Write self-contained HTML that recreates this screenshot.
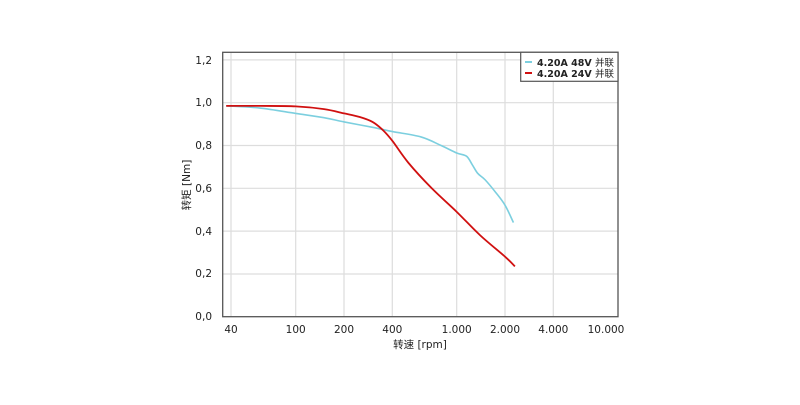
<!DOCTYPE html>
<html><head><meta charset="utf-8"><style>
body{margin:0;background:#fff;width:800px;height:400px;overflow:hidden}
text{font-family:"DejaVu Sans","Noto Sans CJK SC",sans-serif;font-size:10.5px;fill:#222}
</style></head><body>
<svg id="s" width="800" height="400" xmlns="http://www.w3.org/2000/svg">
<g stroke="#ddd" stroke-width="1.2">
<line x1="231" y1="52" x2="231" y2="317"/><line x1="295.7" y1="52" x2="295.7" y2="317"/>
<line x1="344" y1="52" x2="344" y2="317"/><line x1="392.3" y1="52" x2="392.3" y2="317"/>
<line x1="456.7" y1="52" x2="456.7" y2="317"/><line x1="505" y1="52" x2="505" y2="317"/>
<line x1="553.3" y1="52" x2="553.3" y2="317"/>
<line x1="223" y1="274" x2="618" y2="274"/><line x1="223" y1="231.1" x2="618" y2="231.1"/>
<line x1="223" y1="188.3" x2="618" y2="188.3"/><line x1="223" y1="145.5" x2="618" y2="145.5"/>
<line x1="223" y1="102.7" x2="618" y2="102.7"/><line x1="223" y1="59.9" x2="618" y2="59.9"/>
</g>
<rect x="222.7" y="52.3" width="395.3" height="264.4" fill="none" stroke="#555" stroke-width="1.3"/>
<path id="b" fill="none" stroke="#7ccfdf" stroke-width="1.6"/>
<path id="r" fill="none" stroke="#d01010" stroke-width="1.8"/>
<g text-anchor="end">
<text x="212" y="320">0,0</text><text x="212" y="277">0,2</text><text x="212" y="235">0,4</text>
<text x="212" y="192">0,6</text><text x="212" y="149">0,8</text><text x="212" y="106">1,0</text><text x="212" y="64">1,2</text>
</g>
<g text-anchor="middle">
<text x="231" y="333">40</text><text x="295.7" y="333">100</text><text x="344" y="333">200</text>
<text x="392.3" y="333">400</text><text x="456.7" y="333">1.000</text><text x="505" y="333">2.000</text>
<text x="553.3" y="333">4.000</text><text x="606" y="333">10.000</text>
<text x="420" y="348">转速 [rpm]</text>
<text transform="translate(190,185) rotate(-90)">转矩 [Nm]</text>
</g>
<rect x="520.7" y="52.3" width="97.3" height="29" fill="#fff" stroke="#555" stroke-width="1.2"/>
<line x1="525" y1="62" x2="532" y2="62" stroke="#7ccfdf" stroke-width="2"/>
<line x1="525" y1="73" x2="532" y2="73" stroke="#d01010" stroke-width="2"/>
<text x="537" y="66" font-weight="bold" style="font-size:9.5px">4.20A 48V <tspan font-weight="normal">并联</tspan></text>
<text x="537" y="77" font-weight="bold" style="font-size:9.5px">4.20A 24V <tspan font-weight="normal">并联</tspan></text>
</svg>
<script>
function X(v){return 295.7+161*Math.log10(v/100)}
function Y(t){return 316.7-214*t}
function p(pts){
 const P=pts.map(q=>[X(q[0]),Y(q[1])]);
 let d='M'+P[0][0].toFixed(1)+' '+P[0][1].toFixed(1);
 for(let i=0;i<P.length-1;i++){
  const a=P[Math.max(i-1,0)],b=P[i],c=P[i+1],e=P[Math.min(i+2,P.length-1)];
  const c1=[b[0]+(c[0]-a[0])/6,b[1]+(c[1]-a[1])/6],c2=[c[0]-(e[0]-b[0])/6,c[1]-(e[1]-b[1])/6];
  d+=' C'+c1.join(' ')+' '+c2.join(' ')+' '+c.join(' ');
 }
 return d;}
document.getElementById('b').setAttribute('d',p([[37,0.985],[60,0.975],[100,0.95],[150,0.93],[200,0.91],[300,0.885],[400,0.865],[600,0.84],[800,0.80],[1000,0.765],[1150,0.75],[1250,0.71],[1350,0.67],[1500,0.64],[1750,0.58],[2000,0.52],[2250,0.44]]));
document.getElementById('r').setAttribute('d',p([[37,0.985],[60,0.985],[100,0.983],[150,0.97],[200,0.95],[250,0.933],[300,0.91],[350,0.87],[400,0.82],[500,0.72],[700,0.60],[1000,0.49],[1400,0.38],[2000,0.28],[2300,0.235]]));
</script>
</body></html>
